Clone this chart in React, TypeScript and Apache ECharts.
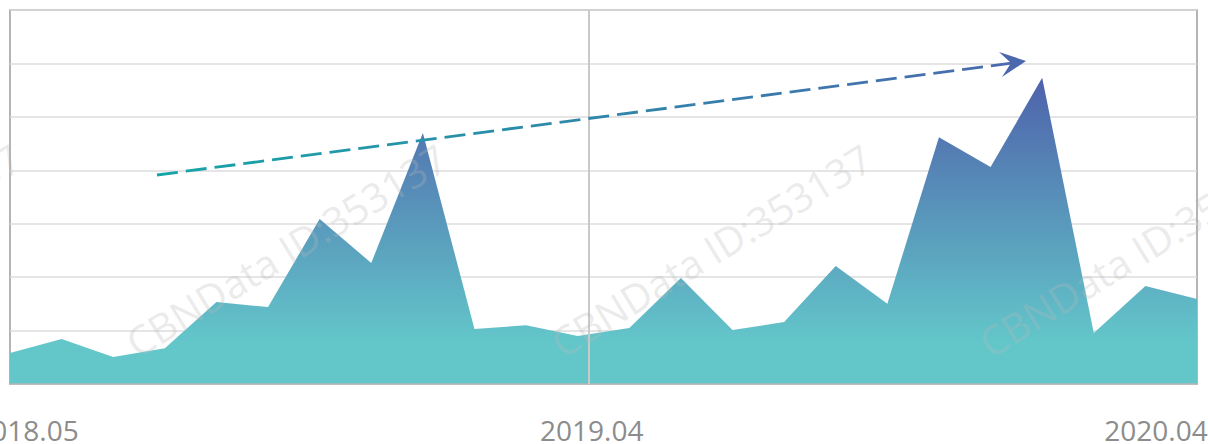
import React, { useEffect, useRef } from "react";
import * as echarts from "echarts";

const categories = [
  "2018.05", "2018.06", "2018.07", "2018.08", "2018.09", "2018.10",
  "2018.11", "2018.12", "2019.01", "2019.02", "2019.03", "2019.04",
  "2019.05", "2019.06", "2019.07", "2019.08", "2019.09", "2019.10",
  "2019.11", "2019.12", "2020.01", "2020.02", "2020.03", "2020.04",
];

const values = [
  5.8, 8.4, 5.05, 6.7, 15.35, 14.4,
  30.9, 22.65, 47.0, 10.3, 11.0, 9.0,
  10.5, 19.85, 10.1, 11.6, 22.1, 15.0,
  46.2, 40.6, 57.3, 9.55, 18.35, 15.9,
];

const shownLabels = ["2018.05", "2019.04", "2020.04"];
const watermarkText = "CBNData ID:353137";

export default function App() {
  const ref = useRef<HTMLDivElement>(null);

  useEffect(() => {
    if (!ref.current) return;
    const chart = echarts.init(ref.current, null, { renderer: "svg" });
    const labelFont = {
      fontSize: 28,
      fontFamily: "Open Sans",
      color: "#8c8c8c",
    };
    const wmPositions = [
      [-286, 363], [140, 363], [565, 363], [993, 363],
      [155, 4], [585, 4], [1010, 4],
    ];
    const rot = (31.5 * Math.PI) / 180;
    const watermarks = wmPositions.map(([x, y]) => ({
      type: "text",
      x,
      y,
      rotation: rot,
      z: 100,
      silent: true,
      style: {
        text: watermarkText,
        fill: "rgba(185,185,185,0.3)",
        fontSize: 40,
        fontFamily: "Open Sans",
        textAlign: "left",
        textVerticalAlign: "bottom",
      },
    }));

    chart.setOption({
      animation: false,
      grid: {
        left: 10,
        right: 11,
        top: 10,
        bottom: 60,
        show: true,
        containLabel: false,
        outerBoundsMode: "none",
        borderColor: "#9c9c9c",
        borderWidth: 1.5,
        backgroundColor: "transparent",
      },
      xAxis: {
        type: "category",
        data: categories,
        boundaryGap: false,
        z: 5,
        axisLine: { show: true, lineStyle: { color: "#b5b5b5", width: 1.5 } },
        axisTick: { show: false },
        splitLine: { show: false },
        axisLabel: {
          margin: 32,
          ...labelFont,
          interval: (index: number) =>
            shownLabels.includes(categories[index]),
          formatter: (v: string) => {
            const i = shownLabels.indexOf(v);
            return `{${["a", "b", "c"][i]}|${v}}`;
          },
          rich: {
            a: { ...labelFont, padding: [0, 0, 0, 34] },
            b: { ...labelFont, padding: [0, 0, 0, 28] },
            c: { ...labelFont, padding: [0, 82, 0, 0] },
          },
        },
      },
      yAxis: {
        type: "value",
        min: 0,
        max: 70,
        interval: 10,
        axisLabel: { show: false },
        axisLine: { show: false },
        axisTick: { show: false },
        splitLine: { show: true, lineStyle: { color: "#dcdcdc", width: 1.5 } },
      },
      series: [
        {
          type: "line",
          data: values,
          symbol: "none",
          lineStyle: { width: 0 },
          areaStyle: {
            opacity: 1,
            color: new echarts.graphic.LinearGradient(0, 0, 0, 1, [
              { offset: 0, color: "#4e62ab" },
              { offset: 0.87, color: "#63c7ca" },
              { offset: 1, color: "#63c7ca" },
            ]),
          },
        },
      ],
      graphic: [
        {
          type: "line",
          z: 50,
          silent: true,
          shape: { x1: 589, y1: 10, x2: 589, y2: 384 },
          style: { stroke: "#c9c9c9", lineWidth: 2 },
        },
        {
          type: "line",
          z: 60,
          silent: true,
          shape: { x1: 157, y1: 175, x2: 1012, y2: 63 },
          style: {
            stroke: new echarts.graphic.LinearGradient(0, 0, 1, 0, [
              { offset: 0, color: "#15a5a7" },
              { offset: 1, color: "#4a6aae" },
            ]),
            lineWidth: 2.8,
            lineDash: [21, 8],
          },
        },
        {
          type: "polygon",
          z: 61,
          silent: true,
          shape: {
            points: [
              [1026, 61],
              [999, 52],
              [1011, 63],
              [1002, 77],
            ],
          },
          style: { fill: "#4a68ad" },
        },
        ...watermarks,
      ],
    });
    return () => chart.dispose();
  }, []);

  return (
    <div
      ref={ref}
      style={{ position: "absolute", left: 0, top: 0, width: 1208, height: 444 }}
    />
  );
}
